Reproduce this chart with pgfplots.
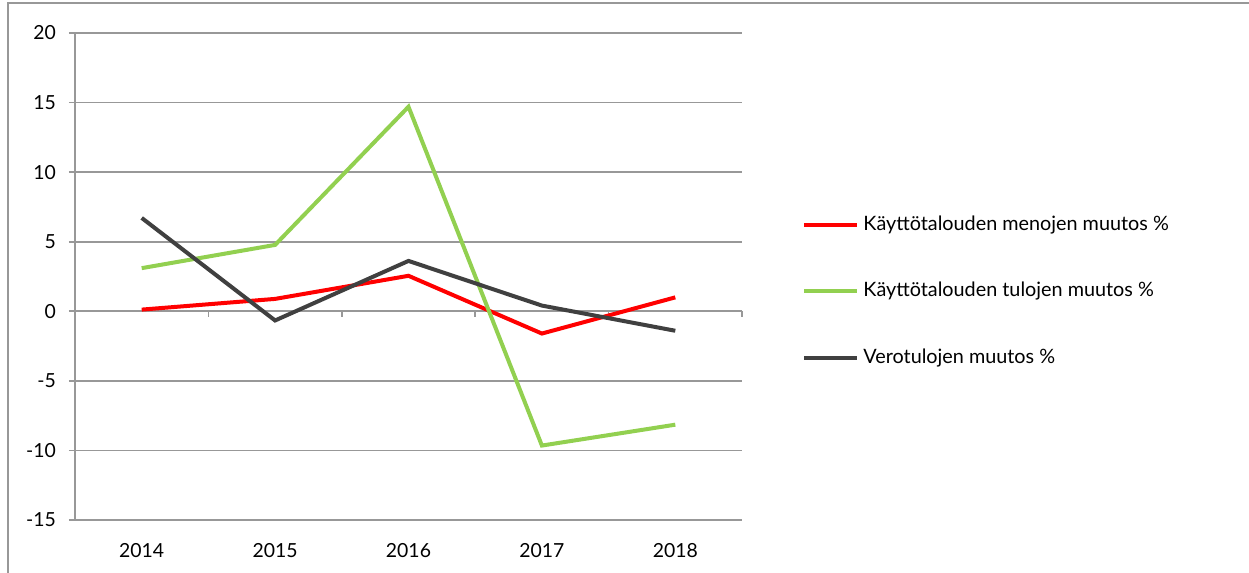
\documentclass[border=0pt]{standalone}
\usepackage{fontspec}
\setmainfont{Lato}
\usepackage{pgfplots}
\pgfplotsset{compat=1.18}
\definecolor{cred}{HTML}{FF0000}
\definecolor{cgreen}{HTML}{92D050}
\definecolor{cdark}{HTML}{404040}
\definecolor{cgrid}{HTML}{989898}
\begin{document}
\begin{tikzpicture}
\useasboundingbox (-37.5pt,-26.5pt) rectangle (587pt,260pt);
\draw[cgrid, line width=0.8pt] (-33.5pt,-30pt) -- (-33.5pt,258.5pt) -- (590pt,258.5pt);
\begin{axis}[
  at={(0pt,0pt)}, anchor=south west,
  scale only axis, width=333.5pt, height=243.5pt,
  xmin=-0.5, xmax=4.5, ymin=-15, ymax=20,
  xtick={0,1,2,3,4},
  xticklabels={2014,2015,2016,2017,2018},
  ytick={-15,-10,-5,0,5,10,15,20},
  yticklabels={-15,-10,-5,0,5,10,15,20},
  axis y line*=left, axis x line*=bottom,
  x axis line style={draw=none},
  y axis line style={cgrid, line width=0.8pt},
  xtick style={draw=none},
  ytick style={cgrid, line width=0.8pt},
  tick align=outside, major tick length=3pt,
  ymajorgrids, grid style={cgrid, line width=0.8pt},
  font=\fontsize{9.7}{11}\selectfont,
  yticklabel style={xshift=-3pt},
  xticklabel style={yshift=-5pt},
  legend style={at={(1.081,0.47)}, anchor=west, draw=none, fill=none,
    row sep=20.5pt, font=\fontsize{9.9}{11}\selectfont,
    /tikz/every even column/.append style={column sep=0pt},
    nodes={inner xsep=2pt}},
  legend cell align=left,
  legend image code/.code={\draw[#1, line width=2pt] (0pt,0pt) -- (26.5pt,0pt);},
  clip=false,
]
\draw[cgrid, line width=0.8pt] (axis cs:-0.5,0) -- (axis cs:4.5,0);
\draw[cgrid, line width=0.8pt] (axis cs:0.5,0) -- ++(0pt,-3pt);
\draw[cgrid, line width=0.8pt] (axis cs:1.5,0) -- ++(0pt,-3pt);
\draw[cgrid, line width=0.8pt] (axis cs:2.5,0) -- ++(0pt,-3pt);
\draw[cgrid, line width=0.8pt] (axis cs:3.5,0) -- ++(0pt,-3pt);
\draw[cgrid, line width=0.8pt] (axis cs:4.5,0) -- ++(0pt,-3pt);
\addplot[cred, line width=2pt] coordinates {(0,0.12) (1,0.89) (2,2.55) (3,-1.6) (4,1.0)};
\addlegendentry{Käyttötalouden menojen muutos \%}
\addplot[cgreen, line width=2pt] coordinates {(0,3.1) (1,4.77) (2,14.7) (3,-9.65) (4,-8.15)};
\addlegendentry{Käyttötalouden tulojen muutos \%}
\addplot[cdark, line width=2pt] coordinates {(0,6.71) (1,-0.66) (2,3.62) (3,0.41) (4,-1.4)};
\addlegendentry{Verotulojen muutos \%}
\end{axis}
\end{tikzpicture}
\end{document}
